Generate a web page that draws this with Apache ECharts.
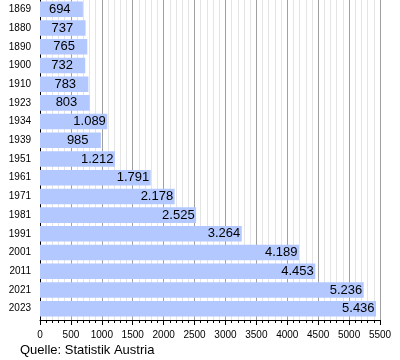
<!DOCTYPE html>
<html>
<head>
<meta charset="utf-8">
<script src="https://cdn.jsdelivr.net/npm/echarts@6/dist/echarts.min.js"></script>
<style>html,body{margin:0;padding:0;background:#fff}#c{width:400px;height:360px}</style>
</head>
<body>
<div id="c"></div>
<script>
var years = ['1869','1880','1890','1900','1910','1923','1934','1939','1951','1961','1971','1981','1991','2001','2011','2021','2023'];
var population = [694,737,765,732,783,803,1089,985,1212,1791,2178,2525,3264,4189,4453,5236,5436];
var xTicks = [0,500,1000,1500,2000,2500,3000,3500,4000,4500,5000,5500];
var sourceText = 'Quelle: Statistik Austria';

function fmt(v){
  var s = String(v);
  return s.length > 3 ? s.slice(0, s.length-3) + '.' + s.slice(s.length-3) : s;
}
var xMin = xTicks[0], xMax = xTicks[xTicks.length-1];

var chart = echarts.init(document.getElementById('c'), null, {renderer:'canvas'});
chart.setOption({
  animation:false,
  textStyle:{fontFamily:'Liberation Sans, Arial, sans-serif'},
  grid:[
    {left:40, right:20, top:-2, bottom:42, containLabel:false},
    {left:40, right:20, top:0, bottom:40, containLabel:false}
  ],
  xAxis:[{
    gridIndex:0, type:'value', min:xMin, max:xMax, interval:500,
    axisLine:{show:false}, axisTick:{show:false}, axisLabel:{show:false}, splitLine:{show:false}
  },{
    gridIndex:1, type:'value', min:xMin, max:xMax, interval:500,
    axisLine:{show:true, lineStyle:{color:'#000', width:1}},
    axisTick:{show:true, length:5, lineStyle:{color:'#000'}},
    minorTick:{show:true, splitNumber:5, length:3, lineStyle:{color:'#000'}},
    splitLine:{show:true, lineStyle:{color:'#a0a0a0', width:1}},
    minorSplitLine:{show:true, lineStyle:{color:'#e4e4e4', width:1}},
    axisLabel:{color:'#000', fontSize:10, margin:10, formatter:function(v){return String(v);}}
  }],
  yAxis:[{
    gridIndex:0, type:'category', data:years, inverse:true,
    axisLine:{show:false}, axisTick:{show:false}, splitLine:{show:false},
    axisLabel:{color:'#000', fontSize:10, margin:9}
  },{
    gridIndex:1, type:'value', min:0, max:1,
    axisLine:{show:true, lineStyle:{color:'#000', width:1}},
    axisTick:{show:false}, axisLabel:{show:false}, splitLine:{show:false}
  }],
  series:[{
    type:'bar', xAxisIndex:0, yAxisIndex:0, data:population, barCategoryGap:'17%', z:3,
    itemStyle:{color:'#b3c8ff'},
    label:{show:true, position:'insideRight', distance:34, align:'left',
      color:'#000', fontSize:13, formatter:function(p){return fmt(p.value);}}
  }],
  graphic:[{type:'text', left:20, top:344, style:{text:sourceText, fontSize:13, fill:'#000', fontFamily:'Liberation Sans, Arial, sans-serif'}}]
});
</script>
</body>
</html>
